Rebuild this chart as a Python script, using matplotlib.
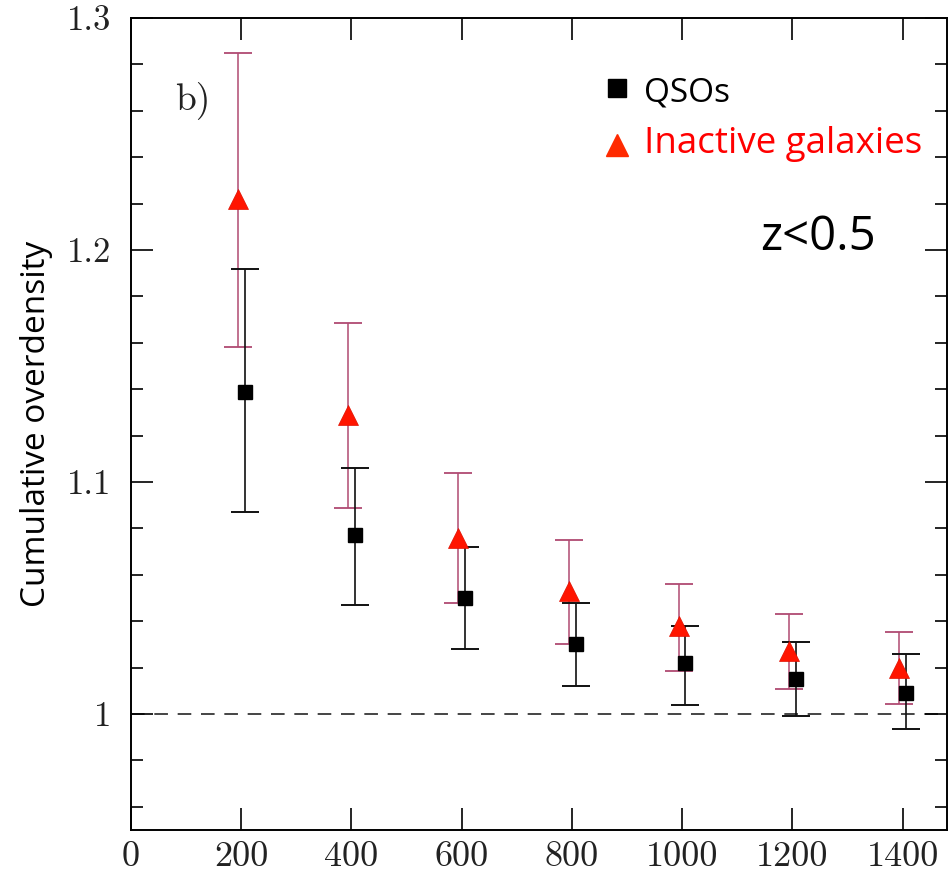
import matplotlib
matplotlib.use("Agg")
import matplotlib.pyplot as plt
from matplotlib.ticker import MultipleLocator, FixedLocator

# Data
qso_x = [206, 406, 606, 807, 1006, 1206, 1407]
qso_y = [1.139, 1.077, 1.050, 1.030, 1.022, 1.015, 1.009]
qso_lo = [1.087, 1.047, 1.028, 1.012, 1.004, 0.999, 0.9935]
qso_hi = [1.192, 1.106, 1.072, 1.048, 1.038, 1.031, 1.026]

gal_x = [194, 393, 594, 795, 995, 1194, 1394]
gal_y = [1.222, 1.129, 1.076, 1.053, 1.038, 1.027, 1.020]
gal_lo = [1.158, 1.089, 1.048, 1.030, 1.0185, 1.0106, 1.0042]
gal_hi = [1.285, 1.1685, 1.104, 1.075, 1.056, 1.043, 1.0355]

xticks = [0, 200, 400, 600, 800, 1000, 1200, 1400]
yticks = [1.0, 1.1, 1.2, 1.3]
ytick_labels = ["1", "1.1", "1.2", "1.3"]

W, H = 949, 873
fig = plt.figure(figsize=(W / 100, H / 100), dpi=100)
ax = fig.add_axes([131 / W, 1 - 830 / H, (946.7 - 131) / W, (830 - 18) / H])

ax.set_xlim(0, 1480)
ax.set_ylim(0.95, 1.3)

ax.axhline(1.0, color="#444444", lw=1.4, dashes=(7, 5), zorder=1)

gal_err = [[y - l for y, l in zip(gal_y, gal_lo)], [h - y for y, h in zip(gal_y, gal_hi)]]
qso_err = [[y - l for y, l in zip(qso_y, qso_lo)], [h - y for y, h in zip(qso_y, qso_hi)]]

ax.errorbar(gal_x, gal_y, yerr=gal_err, fmt="none", ecolor="#b04a72",
            elinewidth=1.1, capsize=10, capthick=1.3, zorder=2)
ax.errorbar(qso_x, qso_y, yerr=qso_err, fmt="none", ecolor="#111111",
            elinewidth=1.2, capsize=10, capthick=1.4, zorder=3)
ax.plot(gal_x, gal_y, linestyle="none", marker="^", ms=14, color="#ff1500",
        mec="#e01000", mew=0.5, zorder=4)
ax.plot(qso_x, qso_y, linestyle="none", marker="s", ms=10.5, color="black", zorder=5)

for s in ax.spines.values():
    s.set_linewidth(1.4)

ax.xaxis.set_major_locator(FixedLocator(xticks))
ax.set_yticks(yticks)
ax.set_yticklabels(ytick_labels)
ax.yaxis.set_minor_locator(MultipleLocator(0.02))
ax.tick_params(which="both", direction="in", top=True, right=True, width=1.2)
ax.tick_params(which="major", length=16)
ax.tick_params(which="minor", length=8.5)
ax.tick_params(axis="x", pad=8)
ax.tick_params(axis="y", pad=14)
for lab in ax.get_xticklabels():
    lab.set_family("cmr10")
    lab.set_fontsize(26)
    lab.set_color("#222222")
for lab in ax.get_yticklabels():
    lab.set_family("cmr10")
    lab.set_fontsize(25)
    lab.set_color("#222222")

ax.set_ylabel("Cumulative overdensity", family="Open Sans", fontsize=24, labelpad=10)

ax.text(112, 1.2647, "b)", family="cmr10", fontsize=27, ha="center", va="center", color="#222222")

# legend-like annotation
ax.plot([882], [1.2698], linestyle="none", marker="s", ms=13, color="black", clip_on=False)
ax.plot([882], [1.2453], linestyle="none", marker="^", ms=16, color="#ff2a00", clip_on=False)
ax.text(930, 1.2675, "QSOs", family="Open Sans", fontsize=24, va="center", ha="left", color="black")
ax.text(930, 1.2455, "Inactive galaxies", family="Open Sans", fontsize=26.5, va="center",
        ha="left", color="#ff0000")
ax.text(1141, 1.2056, "z<0.5", family="Open Sans", fontsize=34, va="center", ha="left", color="black")

fig.savefig("out.png", dpi=100)
